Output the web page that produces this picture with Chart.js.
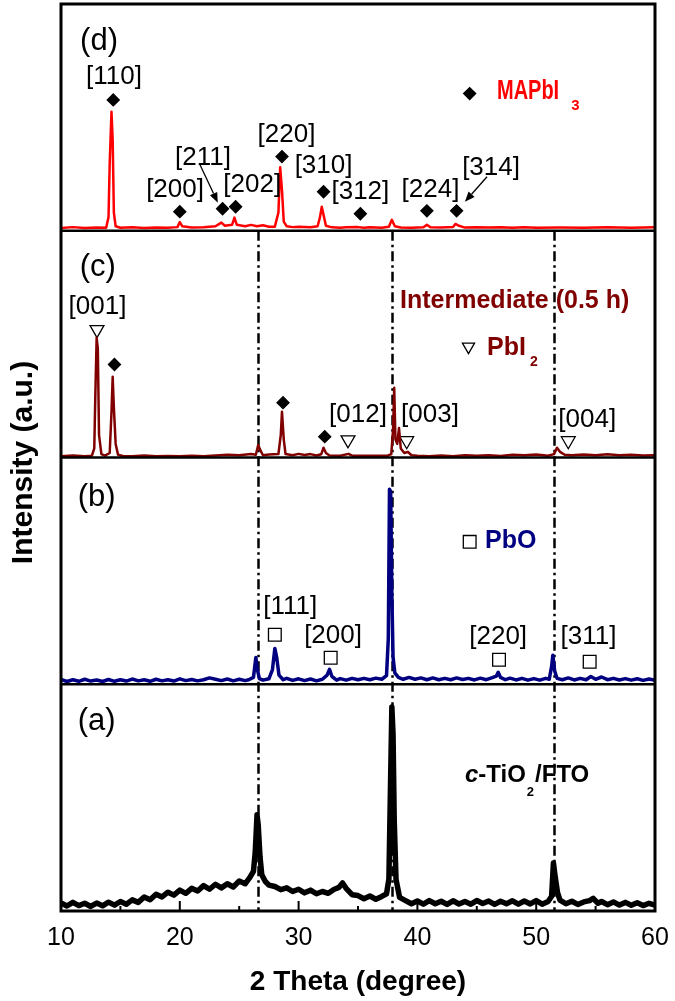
<!DOCTYPE html>
<html><head><meta charset="utf-8">
<script src="https://cdn.jsdelivr.net/npm/chart.js@4/dist/chart.umd.min.js"></script>
<style>html,body{margin:0;padding:0;background:#fff}#wrap{width:675px;height:1001px}</style>
</head><body><div id="wrap"><canvas id="c" width="675" height="1001"></canvas></div>
<script>
// ---------------- data (2θ in degrees, intensity in arbitrary units per panel, 0-100) ----------------
// (a) c-TiO2/FTO
const thetaA = [10,10.5,11,11.5,12,12.5,13,13.5,14,14.5,15,15.5,16,16.5,17,17.5,18,18.5,19,19.5,20,20.5,21,21.5,22,22.5,23,23.5,24,24.5,25,25.5,25.9,26.2,26.35,26.5,26.6,26.75,26.9,27.2,27.5,28,28.5,29,29.5,30,30.5,31,31.5,32,32.5,33,33.4,33.7,34,34.5,35,35.5,36,36.5,37,37.4,37.6,37.75,37.85,37.95,38.05,38.2,38.5,39,39.5,40,40.5,41,41.5,42,42.5,43,43.5,44,44.5,45,45.5,46,46.5,47,47.5,48,48.5,49,49.5,50,50.5,51,51.3,51.45,51.6,51.8,52,52.5,53,53.5,54,54.5,54.8,55.2,55.5,56,56.5,57,57.5,58,58.5,59,59.5,60];
const intensityA = [3.6,2.2,3.8,2.4,3.4,2.0,3.5,2.3,3.9,2.6,4.2,3.0,4.9,3.8,6.2,5.0,7.4,6.2,8.3,7.0,9.2,7.8,10.0,8.8,11.2,9.6,11.8,10.2,12.0,10.6,13.2,12.0,14.8,17.5,26,42.4,38,24,16,13.0,11.4,10.8,9.4,10.2,8.6,9.6,8.0,9.2,7.6,8.6,7.8,9.6,10.4,12.4,10.0,7.2,6.8,5.4,6.6,5.2,6.4,7.6,14,60,90,78,40,14,6.0,4.6,3.2,4.4,3.0,4.6,3.2,4.3,2.9,4.5,3.1,4.2,3.0,4.6,3.3,4.4,2.9,4.3,3.2,4.5,3.0,4.4,3.1,4.6,3.0,4.2,6.5,21.2,15,8.0,4.8,3.2,4.3,2.9,4.0,4.6,5.6,3.4,4.2,2.8,4.0,2.6,3.8,2.5,3.6,2.4,3.4,2.6];

// (b) PbO
const thetaB = [10,10.5,11,11.5,12,12.5,13,13.5,14,14.5,15,15.5,16,16.5,17,17.5,18,18.5,19,19.5,20,20.5,21,21.5,22,22.5,23,23.5,24,24.5,25,25.5,25.8,26.2,26.4,26.55,26.7,27,27.5,27.8,28,28.15,28.35,28.7,29,29.5,30,30.5,31,31.5,32,32.4,32.6,32.8,33.2,33.5,34,34.5,35,35.5,36,36.5,37,37.4,37.55,37.65,37.75,37.85,37.95,38.1,38.4,38.8,39.3,39.8,40.3,40.8,41.3,41.8,42.3,42.8,43.3,43.8,44.3,44.8,45.3,45.8,46.3,46.65,46.8,47,47.4,47.8,48.3,48.8,49.3,49.8,50.3,50.8,51.1,51.3,51.4,51.55,51.75,52.2,52.7,53.2,53.7,54.2,54.6,55,55.5,56,56.5,57,57.5,58,58.5,59,59.5,60];
const intensityB = [2.1,1.2,2.0,1.3,2.2,1.4,1.9,1.2,2.1,1.3,2.0,1.4,2.3,1.5,2.0,1.3,2.2,1.5,2.0,1.4,2.4,1.6,2.1,1.5,2.0,2.8,2.2,1.6,2.3,1.5,2.2,1.6,2.0,3.0,11.8,6,2.5,1.8,2.4,6.5,15.8,12,4,2.0,2.6,1.7,2.4,1.6,2.3,1.5,2.2,4.0,6.6,3.5,1.8,2.5,1.8,2.6,2.0,2.6,2.0,2.7,2.2,3.8,20,86,85,40,12,5,3.0,2.2,3.0,2.2,2.8,2.0,2.8,2.0,2.6,2.0,2.8,2.1,2.6,1.9,2.7,2.0,2.9,3.6,5.3,3.0,2.0,2.7,1.9,2.6,1.8,2.5,1.8,2.6,2.2,8,12.8,6,2.6,2.0,2.8,1.9,2.6,2.0,3.4,2.2,3.2,2.0,2.6,1.9,2.5,1.8,2.4,1.7,2.3,1.8];

// (c) Intermediate (0.5 h)
const thetaC = [10,11,12,12.6,12.8,12.9,13,13.1,13.2,13.4,13.7,14.1,14.25,14.35,14.45,14.6,14.8,15.2,16,17,18,19,20,21,22,23,24,25,26,26.4,26.6,26.8,27,27.5,28.3,28.5,28.6,28.75,28.9,29.5,30,30.5,31,31.5,31.9,32.1,32.3,32.6,33.5,34.2,34.5,35.5,36.5,37.5,37.8,37.95,38.05,38.15,38.3,38.45,38.6,38.9,39.2,39.5,40,41,42,43,44,45,46,47,48,49,50,51,51.5,51.75,52,52.4,53,54,55,56,57,58,59,60];
const intensityC = [0.6,0.9,0.5,0.8,4,30,52.8,48,10,1.5,0.8,2,20,35.6,22,6,1.2,0.7,0.5,0.9,0.5,0.7,0.5,0.8,0.6,0.9,1.2,1.0,1.5,1.2,5.5,3,1.0,1.3,1.5,10,20.2,8,1.5,1.0,1.6,1.1,1.5,0.9,1.4,4.3,2.0,0.9,0.8,1.6,0.8,0.8,0.8,0.8,1.5,12,30.8,8,6,13,4,2.0,2.5,1.0,0.8,0.6,0.9,0.6,1.0,0.8,1.0,0.7,1.2,1.0,1.3,0.8,1.5,4.3,2.5,1.2,1.0,1.3,1.0,1.4,1.0,1.2,0.9,1.0];

// (d) MAPbI3
const thetaD = [10,11,12,13,13.8,14.0,14.1,14.25,14.35,14.45,14.6,15,16,17,18,19,19.8,20.0,20.2,21,22,23,23.5,23.8,24.4,24.6,24.8,25.5,26,26.5,27,27.5,28,28.3,28.45,28.6,28.75,29,29.5,30,31,31.6,31.8,31.95,32.1,32.3,32.8,33.5,34,35,35.5,36,37,37.6,37.85,38.1,38.6,39.5,40.5,40.8,41.1,42,43,43.2,43.5,44,45,46,47,48,49,50,52,54,56,58,60];
const intensityD = [1.2,1.6,1.2,1.4,1.3,6,30,52.5,40,8,2.0,1.3,1.5,1.2,1.4,1.3,1.6,3.8,2.0,1.4,1.5,2.0,3.6,2.2,2.6,5.8,2.6,2.0,2.6,2.0,2.4,1.8,1.8,8,28,18,4,2.0,1.6,1.8,1.5,2.0,6,10.6,7,2.2,1.5,1.3,1.5,1.6,1.3,1.5,1.3,1.8,4.8,2.0,1.4,1.3,1.5,2.6,1.5,1.4,1.6,3.0,2.2,1.4,1.5,1.4,1.5,1.3,1.5,1.3,1.4,1.3,1.5,1.3,1.5];

// x axis ticks / reference lines
const xMin = 10, xMax = 60, xStep = 10;
const refLines = [26.55, 37.9, 51.5];

// phase markers (2θ, height in panel units)
const mapbi3DiamondTheta = [14.4, 20.0, 23.6, 24.7, 28.6, 32.1, 35.2, 40.8, 43.3];
const mapbi3DiamondY     = [57.7, 8.4, 9.7, 10.6, 32.7, 17.2, 7.5, 8.8, 8.8];
const interDiamondTheta  = [14.5, 28.69, 32.2];
const interDiamondY      = [41, 24.2, 9.2];
const pbi2TriTheta       = [13.03, 34.16, 39.1, 52.7];
const pbi2TriY           = [56.4, 7.8, 7.4, 7.4];
const pboSquareTheta     = [28.0, 32.7, 46.87, 54.5];
const pboSquareY         = [21.8, 11.7, 10.8, 9.9];

// Miller index labels
const hklD = ['[110]','[200]','[211]','[202]','[220]','[310]','[312]','[224]','[314]'];
const hklDTheta = [14.46, 19.6, 21.95, 26.1, 28.98, 32.1, 35.2, 41.1, 46.2];
const hklDY = [68, 18.1, 32.2, 20.3, 42.4, 28.7, 17.2, 18.1, 27.8];
const hklC = ['[001]','[012]','[003]','[004]'];
const hklCTheta = [13.07, 35.0, 41.06, 54.3];
const hklCY = [66.5, 18.7, 18.7, 16.8];
const hklB = ['[111]','[200]','[220]','[311]'];
const hklBTheta = [29.3, 32.9, 46.8, 54.4];
const hklBY = [34.2, 21.4, 20.9, 20.9];

// panel letters
const panelNames = ['(a)','(b)','(c)','(d)'];
const panelAxes  = ['yA','yB','yC','yD'];
const panelTheta = [13.0, 13.0, 13.1, 13.2];
const panelY     = [83.4, 82.6, 83.6, 83.7];

// arrows: [theta0, y0, theta1, y1] in panel d
const arrowsD = [[21.7, 29.1, 23.2, 12.4], [45.86, 23.8, 44.0, 12.8]];

// ---------------- chart ----------------
const F = "'Liberation Sans', Arial, Helvetica, sans-serif";
const pts = (xs, ys) => xs.map((x, i) => ({x: x, y: ys[i]}));

const yAxis = () => ({
  type: 'linear', position: 'left', stack: 'xrd', stackWeight: 1, min: 0, max: 100,
  ticks: {display: false}, grid: {display: false, drawTicks: false}, border: {display: false},
  afterFit: s => { s.width = 0; }
});

const overlay = {
  id: 'overlay',
  beforeDatasetsDraw(chart) {
    const ctx = chart.ctx, x = chart.scales.x, yC = chart.scales.yC, ca = chart.chartArea;
    ctx.save();
    ctx.strokeStyle = '#000'; ctx.lineWidth = 2.5;
    ctx.setLineDash([10, 4, 2.5, 4]);
    refLines.forEach(v => {
      const px = Math.round(x.getPixelForValue(v)) + 0.5;
      ctx.beginPath(); ctx.moveTo(px, yC.top); ctx.lineTo(px, ca.bottom); ctx.stroke();
    });
    ctx.restore();
  },
  afterDatasetsDraw(chart) {
    const ctx = chart.ctx, ca = chart.chartArea, x = chart.scales.x, s = chart.scales;
    ctx.save();
    ctx.strokeStyle = '#000';
    ctx.lineWidth = 2.5;
    ['yD','yC','yB'].forEach(id => {
      const y = s[id].bottom;
      ctx.beginPath(); ctx.moveTo(ca.left, y); ctx.lineTo(ca.right, y); ctx.stroke();
    });
    ctx.lineWidth = 2;
    for (let v = xMin; v <= xMax; v += xStep / 2) {
      const px = x.getPixelForValue(v);
      const len = (v % xStep === 0) ? 10 : 5;
      ctx.beginPath(); ctx.moveTo(px, ca.bottom); ctx.lineTo(px, ca.bottom - len); ctx.stroke();
    }
    ctx.lineWidth = 3;
    ctx.strokeRect(ca.left, ca.top, ca.right - ca.left, ca.bottom - ca.top);
    ctx.restore();
  },
  afterDraw(chart) {
    const ctx = chart.ctx, x = chart.scales.x, s = chart.scales;
    const P = (th, v, id) => [x.getPixelForValue(th), s[id].getPixelForValue(v)];
    ctx.save();
    ctx.fillStyle = '#000';
    ctx.textAlign = 'center'; ctx.textBaseline = 'middle';
    ctx.font = '26px ' + F;
    const lab = (arr, th, ys, id) => arr.forEach((t, i) => { const [px, py] = P(th[i], ys[i], id); ctx.fillText(t, px, py); });
    lab(hklD, hklDTheta, hklDY, 'yD');
    lab(hklC, hklCTheta, hklCY, 'yC');
    lab(hklB, hklBTheta, hklBY, 'yB');
    ctx.font = '31px ' + F;
    panelNames.forEach((t, i) => { const [px, py] = P(panelTheta[i], panelY[i], panelAxes[i]); ctx.fillText(t, px, py); });
    ctx.strokeStyle = '#000'; ctx.lineWidth = 1.3;
    arrowsD.forEach(a => {
      const [x0, y0] = P(a[0], a[1], 'yD'), [x1, y1] = P(a[2], a[3], 'yD');
      const ang = Math.atan2(y1 - y0, x1 - x0), L = 10, W = 4;
      const bx = x1 - L * Math.cos(ang), by = y1 - L * Math.sin(ang);
      ctx.beginPath(); ctx.moveTo(x0, y0); ctx.lineTo(bx, by); ctx.stroke();
      ctx.beginPath(); ctx.moveTo(x1, y1);
      ctx.lineTo(bx + W * Math.sin(ang), by - W * Math.cos(ang));
      ctx.lineTo(bx - W * Math.sin(ang), by + W * Math.cos(ang));
      ctx.closePath(); ctx.fill();
    });
    ctx.textAlign = 'left';
    {
      const [px, py] = P(46.7, 61.6, 'yD');
      ctx.fillStyle = '#ff0000';
      ctx.save(); ctx.translate(px, py); ctx.scale(0.74, 1);
      ctx.font = 'bold 27px ' + F; ctx.fillText('MAPbI', 0, 0);
      const w = ctx.measureText('MAPbI').width;
      ctx.restore();
      ctx.font = 'bold 15px ' + F; ctx.fillText('3', px + w * 0.74 + 12, py + 15);
    }
    {
      ctx.fillStyle = '#800000';
      ctx.font = 'bold 25px ' + F;
      let [px, py] = P(38.54, 69.0, 'yC');
      ctx.fillText('Intermediate (0.5 h)', px, py);
      [px, py] = P(45.86, 48.3, 'yC');
      ctx.fillText('PbI', px, py);
      const w = ctx.measureText('PbI').width;
      ctx.font = 'bold 14px ' + F; ctx.fillText('2', px + w + 4, py + 14);
    }
    {
      ctx.fillStyle = '#000080';
      ctx.font = 'bold 25px ' + F;
      const [px, py] = P(45.69, 63.2, 'yB');
      ctx.fillText('PbO', px, py);
    }
    {
      ctx.fillStyle = '#000';
      let [px, py] = P(44.0, 60, 'yA');
      ctx.font = 'italic bold 24px ' + F; ctx.fillText('c', px, py); px += ctx.measureText('c').width;
      ctx.font = 'bold 24px ' + F; ctx.fillText('-TiO', px, py); px += ctx.measureText('-TiO').width;
      ctx.font = 'bold 13px ' + F; ctx.fillText('2', px + 1, py + 17); px += ctx.measureText('2').width + 2;
      ctx.font = 'bold 24px ' + F; ctx.fillText('/FTO', px, py);
    }
    ctx.fillStyle = '#000';
    ctx.font = 'bold 30px ' + F;
    ctx.textAlign = 'center'; ctx.textBaseline = 'alphabetic';
    ctx.translate(32, (chart.chartArea.top + chart.chartArea.bottom) / 2 + 5);
    ctx.rotate(-Math.PI / 2);
    ctx.fillText('Intensity (a.u.)', 0, 0);
    ctx.restore();
  }
};

const lineDs = (xs, ys, id, color, w) => ({
  type: 'line', data: pts(xs, ys), yAxisID: id, borderColor: color, borderWidth: w,
  pointRadius: 0, tension: 0, fill: false, borderJoinStyle: 'round'
});
const markDs = (xs, ys, id, style, r, fill, rot) => ({
  type: 'scatter', data: pts(xs, ys), yAxisID: id, pointStyle: style, pointRadius: r,
  pointHoverRadius: r, pointRotation: rot || 0, backgroundColor: fill, borderColor: '#000', borderWidth: 1.3
});

new Chart(document.getElementById('c'), {
  data: {
    datasets: [
      lineDs(thetaA, intensityA, 'yA', '#000000', 5.5),
      lineDs(thetaB, intensityB, 'yB', '#000080', 3.5),
      lineDs(thetaC, intensityC, 'yC', '#800000', 2.5),
      lineDs(thetaD, intensityD, 'yD', '#ff0000', 2.5),
      markDs(mapbi3DiamondTheta, mapbi3DiamondY, 'yD', 'rectRot', 6, '#000'),
      markDs([44.4], [60.5], 'yD', 'rectRot', 6, '#000'),
      markDs(interDiamondTheta, interDiamondY, 'yC', 'rectRot', 6, '#000'),
      markDs(pbi2TriTheta, pbi2TriY, 'yC', 'triangle', 8, 'rgba(255,255,255,0)', 180),
      markDs([44.3], [48.9], 'yC', 'triangle', 7, 'rgba(255,255,255,0)', 180),
      markDs(pboSquareTheta, pboSquareY, 'yB', 'rect', 9, 'rgba(255,255,255,0)'),
      markDs([44.4], [62.8], 'yB', 'rect', 9, 'rgba(255,255,255,0)')
    ]
  },
  options: {
    responsive: false, animation: false, devicePixelRatio: 1,
    layout: {autoPadding: false, padding: {left: 61, right: 20, top: 4, bottom: 0}},
    plugins: {legend: {display: false}, tooltip: {enabled: false}},
    scales: {
      x: {
        type: 'linear', position: 'bottom', min: xMin, max: xMax,
        ticks: {stepSize: xStep, color: '#000', font: {family: F, size: 25}, padding: 12, maxRotation: 0},
        grid: {display: false, drawTicks: false}, border: {display: false},
        title: {display: true, text: '2 Theta (degree)', color: '#000', font: {family: F, size: 28, weight: 'bold'}, padding: {top: 0, bottom: 2}},
        afterFit: s => { s.height = 90; s.paddingLeft = 0; s.paddingRight = 0; }
      },
      yA: yAxis(), yB: yAxis(), yC: yAxis(), yD: yAxis()
    }
  },
  plugins: [overlay]
});
</script>
</body></html>
